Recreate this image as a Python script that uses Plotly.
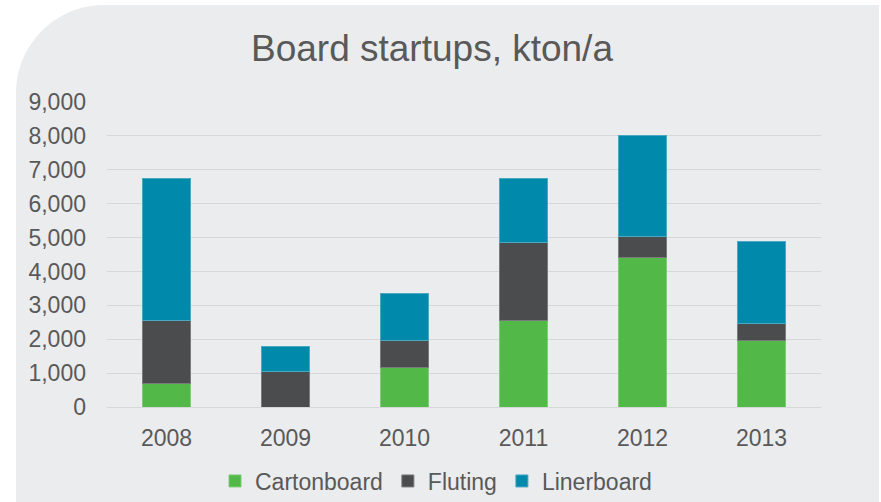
import plotly.graph_objects as go

years = ["2008", "2009", "2010", "2011", "2012", "2013"]
cartonboard = [700, 0, 1180, 2540, 4400, 1950]
fluting = [1840, 1050, 770, 2300, 620, 500]
linerboard = [4210, 750, 1390, 1890, 2980, 2420]

SERIES = [
    ("Cartonboard", cartonboard, "#52b848", "#7fcb77"),
    ("Fluting", fluting, "#4b4c4e", "#7a7b7d"),
    ("Linerboard", linerboard, "#0089aa", "#4aa8c0"),
]

W, H = 881, 502
ML, MR, MT, MB = 107, 60, 102, 95
PW, PH = W - ML - MR, H - MT - MB


def px_to_paper(px, py):
    return (px - ML) / PW, (H - MB - py) / PH


def rounded_bg_path(left, top, right, bottom, r):
    k = 0.45
    pts = {
        "a": px_to_paper(left, bottom + 5),
        "b": px_to_paper(left, top + r),
        "c1": px_to_paper(left, top + r * k),
        "c2": px_to_paper(left + r * k, top),
        "d": px_to_paper(left + r, top),
        "e": px_to_paper(right, top),
        "f": px_to_paper(right, bottom + 5),
    }
    f = lambda p: f"{p[0]:.5f},{p[1]:.5f}"
    return (f"M {f(pts['a'])} L {f(pts['b'])} C {f(pts['c1'])} {f(pts['c2'])} {f(pts['d'])} "
            f"L {f(pts['e'])} L {f(pts['f'])} Z")


fig = go.Figure()
for name, vals, color, edge in SERIES:
    fig.add_trace(go.Bar(
        x=years, y=vals, name=name,
        marker=dict(color=color, line=dict(color=edge, width=1)),
    ))

fig.update_layout(
    barmode="stack",
    bargap=0.6,
    width=W, height=H,
    margin=dict(l=ML, r=MR, t=MT, b=MB, autoexpand=False),
    paper_bgcolor="white",
    plot_bgcolor="rgba(0,0,0,0)",
    font=dict(family="Liberation Sans, Arial, sans-serif", size=23, color="#595959"),
    title=dict(
        text="Board startups, kton/a",
        font=dict(size=37, color="#595959"),
        x=432 / W, xanchor="center", xref="container",
        y=1 - 48 / H, yanchor="middle", yref="container",
    ),
    yaxis=dict(
        range=[0, 9000], dtick=1000, tickformat=",",
        showgrid=True, gridcolor="#d6d7d9", gridwidth=1.3,
        zeroline=False, showline=False, ticks="",
        ticklabelstandoff=20, tickfont=dict(size=23),
    ),
    xaxis=dict(
        showgrid=False, zeroline=False, showline=True,
        linecolor="#d6d7d9", linewidth=1.3, ticks="",
        ticklabelstandoff=10, tickfont=dict(size=23),
    ),
    legend=dict(
        orientation="h", x=(436 - ML) / PW, xanchor="center",
        y=(H - MB - 481) / PH, yanchor="middle", yref="paper",
        bgcolor="rgba(0,0,0,0)", font=dict(size=23, color="#595959"),
        itemwidth=30, traceorder="normal",
    ),
    shapes=[dict(
        type="path", xref="paper", yref="paper", layer="below",
        path=rounded_bg_path(16, 5, 879, H, 88),
        fillcolor="#ebecee", line=dict(width=0),
    )],
)

fig.write_html(
    "out.html",
    config={"displayModeBar": False},
    post_script="document.body.style.margin='0';",
)
